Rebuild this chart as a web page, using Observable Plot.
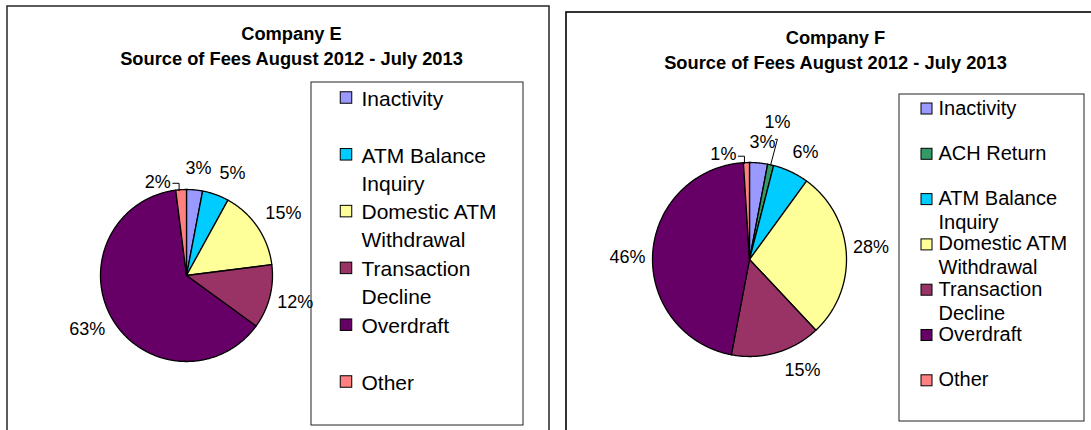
<!DOCTYPE html>
<html>
<head>
<meta charset="utf-8">
<script src="https://cdn.jsdelivr.net/npm/d3@7"></script>
<script src="https://cdn.jsdelivr.net/npm/@observablehq/plot@0.6"></script>
<style>
  html, body { margin: 0; padding: 0; background: #fff; }
  #chart svg { display: block; }
</style>
</head>
<body>
<div id="chart"></div>
<script>
// ---------- data ----------
const allCategories = ["Inactivity", "ACH Return", "ATM Balance Inquiry", "Domestic ATM Withdrawal", "Transaction Decline", "Overdraft", "Other"];
const categoryColors = ["#9999FF", "#339966", "#00CCFF", "#FFFF99", "#993366", "#660066", "#FF8080"];
const subtitle = "Source of Fees August 2012 - July 2013";

const companyE = "Company E";
const categoriesE = ["Inactivity", "ATM Balance Inquiry", "Domestic ATM Withdrawal", "Transaction Decline", "Overdraft", "Other"];
const valuesE = [3, 5, 15, 12, 63, 2];

const companyF = "Company F";
const categoriesF = ["Inactivity", "ACH Return", "ATM Balance Inquiry", "Domestic ATM Withdrawal", "Transaction Decline", "Overdraft", "Other"];
const valuesF = [3, 1, 6, 28, 15, 46, 1];

// ---------- layout ----------
const panels = [
  {
    name: companyE, categories: categoriesE, values: valuesE,
    frame: [7, 6, 549, 445], frameStroke: "#333",
    titleX: 291, titleY: [39, 64],
    cx: 186, cy: 275, r: 86,
    legendBox: [311, 82, 523, 425], swatchX: 346, swatch: 11.5, textX: 361,
    legendY0: 97, legendDY: 56.8, legendFont: 21, legendLH: 1.33,
    labelDA: [1, 4.5, 1.6, -0.5, 2, -13.4],
    labelDist: [108, 112, 115, 112, 113, 98],
    leaders: [{i: 5, type: "side"}]
  },
  {
    name: companyF, categories: categoriesF, values: valuesF,
    frame: [566, 12, 1096, 445], frameStroke: "#000",
    titleX: 835, titleY: [43, 68],
    cx: 749, cy: 259, r: 97,
    legendBox: [899, 94, 1084, 421], swatchX: 926.5, swatch: 11, textX: 938,
    legendY0: 108, legendDY: 45.3, legendFont: 20, legendLH: 1.2,
    labelDA: [0.9, -1.1, 2.4, -2.1, -9.3, -2.4, -12.2],
    labelDist: [118, 140, 121, 122, 123, 122, 108],
    leaders: [{i: 1, type: "below"}, {i: 6, type: "side"}]
  }
];

const W = 1091, H = 430;
const rad = Math.PI / 180;
const wrap = s => s.length > 12 ? s.replace(/ (\S+)$/, "\n$1") : s;

const slicePts = [], labelRows = [], leaderPts = [], titleRows = [], frameRows = [], boxRows = [];
const legendMarks = [];

panels.forEach(p => {
  frameRows.push({x1: p.frame[0], y1: p.frame[1], x2: p.frame[2], y2: p.frame[3], stroke: p.frameStroke});
  boxRows.push({x1: p.legendBox[0], y1: p.legendBox[1], x2: p.legendBox[2], y2: p.legendBox[3]});
  titleRows.push({x: p.titleX, y: p.titleY[0], text: p.name});
  titleRows.push({x: p.titleX, y: p.titleY[1], text: subtitle});

  const arcs = d3.pie().sort(null).value(d => d)(p.values);
  arcs.forEach((a, i) => {
    const key = p.name + "-" + i, category = p.categories[i];
    slicePts.push({key, category, x: p.cx, y: p.cy});
    const n = Math.max(2, Math.ceil((a.endAngle - a.startAngle) / (0.5 * rad)));
    for (let k = 0; k <= n; k++) {
      const t = a.startAngle + (a.endAngle - a.startAngle) * k / n;
      slicePts.push({key, category, x: p.cx + p.r * Math.sin(t), y: p.cy - p.r * Math.cos(t)});
    }
    const mid = (a.startAngle + a.endAngle) / 2;
    const la = mid + p.labelDA[i] * rad, ld = p.labelDist[i];
    const lx = p.cx + ld * Math.sin(la), ly = p.cy - ld * Math.cos(la);
    labelRows.push({x: lx, y: ly, text: `${p.values[i]}%`});
    const lead = p.leaders.find(l => l.i === i);
    if (lead) {
      const ex = p.cx + p.r * Math.sin(mid), ey = p.cy - p.r * Math.cos(mid);
      const lk = key + "-lead";
      if (lead.type === "side") {
        leaderPts.push({key: lk, x: lx + 15, y: ly + 1.5});
        leaderPts.push({key: lk, x: ex - 2, y: ly + 1.5});
        leaderPts.push({key: lk, x: ex - 2, y: ey + 1});
      } else {
        leaderPts.push({key: lk, x: lx - 2, y: ly + 17});
        leaderPts.push({key: lk, x: lx, y: ly + 17});
        leaderPts.push({key: lk, x: ex, y: ey});
      }
    }
  });

  const legendRows = p.categories.map((c, i) => {
    const cyL = p.legendY0 + i * p.legendDY;
    return {
      category: c, text: wrap(c), y: cyL,
      ty: cyL - 0.55 * p.legendFont,
      sx1: p.swatchX - p.swatch / 2, sx2: p.swatchX + p.swatch / 2,
      sy1: cyL - p.swatch / 2 + 0.5, sy2: cyL + p.swatch / 2 + 0.5,
      tx: p.textX
    };
  });
  legendMarks.push(
    Plot.rect(legendRows, {x1: "sx1", x2: "sx2", y1: "sy1", y2: "sy2", fill: "category", stroke: "#000", strokeWidth: 1}),
    Plot.text(legendRows, {x: "tx", y: "ty", text: "text", textAnchor: "start", lineAnchor: "top",
      lineHeight: p.legendLH, fontSize: p.legendFont, fill: "#000"})
  );
});

const plot = Plot.plot({
  width: W, height: H,
  margin: 0,
  x: {domain: [0, W], range: [0, W], axis: null},
  y: {domain: [0, H], range: [0, H], axis: null},
  color: {domain: allCategories, range: categoryColors},
  style: {fontFamily: "'Liberation Sans', Arial, sans-serif", background: "#fff"},
  marks: [
    Plot.rect(frameRows, {x1: "x1", y1: "y1", x2: "x2", y2: "y2", fill: "none", stroke: d => d.stroke, strokeWidth: 1.6}),
    Plot.rect(boxRows, {x1: "x1", y1: "y1", x2: "x2", y2: "y2", fill: "#fff", stroke: "#222", strokeWidth: 1}),
    Plot.text(titleRows, {x: "x", y: "y", text: "text", lineAnchor: "bottom", fontSize: 18.3, fontWeight: "bold", fill: "#000"}),
    Plot.line(slicePts, {x: "x", y: "y", z: "key", fill: "category", stroke: "#000", strokeWidth: 1.3, curve: "linear-closed", strokeLinejoin: "round"}),
    Plot.line(leaderPts, {x: "x", y: "y", z: "key", stroke: "#000", strokeWidth: 1}),
    Plot.text(labelRows, {x: "x", y: "y", text: "text", fontSize: 18, fill: "#000"}),
    ...legendMarks
  ]
});

document.getElementById("chart").appendChild(plot);
</script>
</body>
</html>
